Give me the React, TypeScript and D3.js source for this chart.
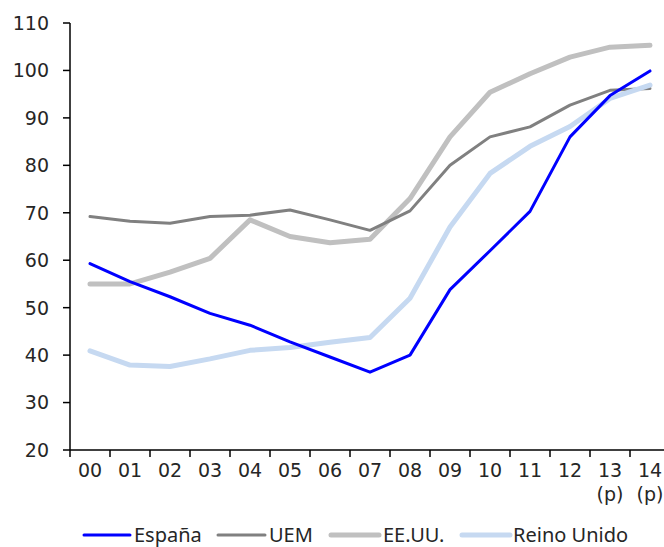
import React from "react";
import * as d3 from "d3";

const categories = ["00","01","02","03","04","05","06","07","08","09","10","11","12","13","14"];
const subLabels = ["","","","","","","","","","","","","","(p)","(p)"];
const espana = [59.3,55.5,52.3,48.8,46.3,42.8,39.6,36.4,40.0,53.8,62.0,70.3,86.0,94.7,99.9];
const uem = [69.2,68.2,67.8,69.2,69.5,70.6,68.5,66.3,70.4,80.0,86.0,88.1,92.7,95.8,96.2];
const eeuu = [55.0,55.0,57.5,60.4,68.5,65.0,63.7,64.4,73.0,86.0,95.4,99.3,102.8,104.9,105.3];
const reinoUnido = [40.9,37.9,37.6,39.2,41.0,41.6,42.7,43.7,52.0,67.0,78.3,84.0,88.2,94.1,96.9];
const yTicks = [20,30,40,50,60,70,80,90,100,110];

const series = [
  { name: "España", values: espana, color: "#0000ff", width: 3 },
  { name: "UEM", values: uem, color: "#808080", width: 3 },
  { name: "EE.UU.", values: eeuu, color: "#c0c0c0", width: 5 },
  { name: "Reino Unido", values: reinoUnido, color: "#c6d9f1", width: 5 },
];
const drawOrder = [2, 1, 3, 0];
const legendPos = [
  { x1: 84, x2: 130, tx: 134 },
  { x1: 218, x2: 265, tx: 269 },
  { x1: 331, x2: 379, tx: 383 },
  { x1: 462, x2: 510, tx: 513 },
];

export default function App() {
  const W = 664, H = 547;
  const x = d3.scaleBand<string>().domain(categories).range([70, 670]);
  const y = d3.scaleLinear().domain([20, 110]).range([450, 23]);
  const line = d3.line<number>()
    .x((_, i) => (x(categories[i]) as number) + x.bandwidth() / 2)
    .y((d) => y(d));
  const tickFont = "'DejaVu Sans', sans-serif";
  const legFont = "'Noto Sans', sans-serif";
  const txt = "#262626";
  return (
    <svg width={W} height={H} style={{ position: "absolute", left: 0, top: 0 }}>
      <rect width={W} height={H} fill="#fff" />
      {drawOrder.map((si) => {
        const s = series[si];
        return (
          <path key={s.name} d={line(s.values) || ""} fill="none" stroke={s.color}
            strokeWidth={s.width} strokeLinejoin="round" strokeLinecap="round" />
        );
      })}
      {/* y axis */}
      <line x1={70} x2={70} y1={23} y2={450} stroke="#000" strokeWidth={1.5} />
      {yTicks.map((t) => (
        <g key={t}>
          <line x1={63} x2={70} y1={y(t)} y2={y(t)} stroke="#000" strokeWidth={1.5} />
          <text x={49} y={y(t)} dy="0.36em" textAnchor="end" fontSize={19} fill={txt} fontFamily={tickFont}>{t}</text>
        </g>
      ))}
      {/* x axis */}
      <line x1={70} x2={664} y1={450} y2={450} stroke="#000" strokeWidth={1.5} />
      {categories.map((c, i) => (
        <g key={c}>
          <line x1={x(c) as number} x2={x(c) as number} y1={450} y2={457} stroke="#000" strokeWidth={1.5} />
          <text x={(x(c) as number) + x.bandwidth() / 2} y={470} dy="0.36em" textAnchor="middle" fontSize={19} fill={txt} fontFamily={tickFont}>{c}</text>
          {subLabels[i] && (
            <text x={(x(c) as number) + x.bandwidth() / 2} y={494} dy="0.36em" textAnchor="middle" fontSize={19} fill={txt} fontFamily={tickFont}>{subLabels[i]}</text>
          )}
        </g>
      ))}
      {/* legend */}
      {series.map((s, i) => (
        <g key={s.name}>
          <line x1={legendPos[i].x1} x2={legendPos[i].x2} y1={535} y2={535} stroke={s.color}
            strokeWidth={s.width} strokeLinecap="round" />
          <text x={legendPos[i].tx} y={535} dy="0.35em" fontSize={20} fill={txt} fontFamily={legFont}>{s.name}</text>
        </g>
      ))}
    </svg>
  );
}
